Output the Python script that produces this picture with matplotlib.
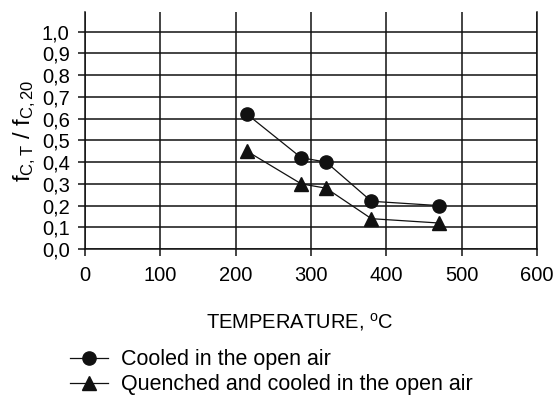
import numpy as np
import matplotlib
matplotlib.use("Agg")
import matplotlib.pyplot as plt

plt.rcParams['font.family'] = ['Liberation Sans', 'DejaVu Sans']
plt.rcParams['mathtext.fontset'] = 'custom'
plt.rcParams['mathtext.rm'] = 'Liberation Sans'
plt.rcParams['mathtext.it'] = 'Liberation Sans'

## data
temps = [215, 287, 320, 380, 470]
cooled = [0.62, 0.42, 0.40, 0.22, 0.20]
quenched = [0.45, 0.30, 0.28, 0.14, 0.12]

xticks = [0, 100, 200, 300, 400, 500, 600]
yticks = [0.0, 0.1, 0.2, 0.3, 0.4, 0.5, 0.6, 0.7, 0.8, 0.9, 1.0]
ytick_labels = ["0,0", "0,1", "0,2", "0,3", "0,4", "0,5", "0,6", "0,7", "0,8", "0,9", "1,0"]

fig = plt.figure(figsize=(5.55, 3.98), dpi=100)
ax = fig.add_axes([0.153, 0.374, 0.815, 0.596])

gc = '#111111'
for y in yticks:
    ax.axhline(y, color=gc, lw=1.1, zorder=1)
for x in xticks:
    ax.axvline(x, color=gc, lw=1.1, zorder=1)

l1, = ax.plot(temps, cooled, color='#111111', lw=0.9, marker='o', ms=9.5,
              label="Cooled in the open air", zorder=3)
l2, = ax.plot(temps, quenched, color='#111111', lw=0.9, marker='^', ms=10.5,
              label="Quenched and cooled in the open air", zorder=3)

ax.set_xlim(0, 600)
ax.set_ylim(0, 1.09)
ax.set_xticks(xticks)
ax.set_yticks(yticks)
ax.set_yticklabels(ytick_labels)
ax.tick_params(axis='both', labelsize=14.5, color=gc, width=1.1, length=5, direction='out')
ax.tick_params(axis='x', pad=7)
ax.tick_params(axis='y', pad=6)

ax.spines['top'].set_visible(False)
for s in ('left', 'bottom', 'right'):
    ax.spines[s].set_color(gc)
    ax.spines[s].set_linewidth(1.1)

ax.set_xlabel("TEMPERATURE, $^{\\rm o}$C", fontsize=14.5)
ax.xaxis.set_label_coords(0.476, -0.262)
ax.set_ylabel("f$_{\\rm C,T}$ / f$_{\\rm C,20}$", fontsize=17, labelpad=3)

fig.legend(handles=[l1, l2], loc='upper left', bbox_to_anchor=(0.126, 0.122),
           frameon=False, fontsize=15.5, handlelength=1.75, handletextpad=0.6,
           labelspacing=0.18, borderpad=0, borderaxespad=0)

fig.savefig("out.png", dpi=100)
